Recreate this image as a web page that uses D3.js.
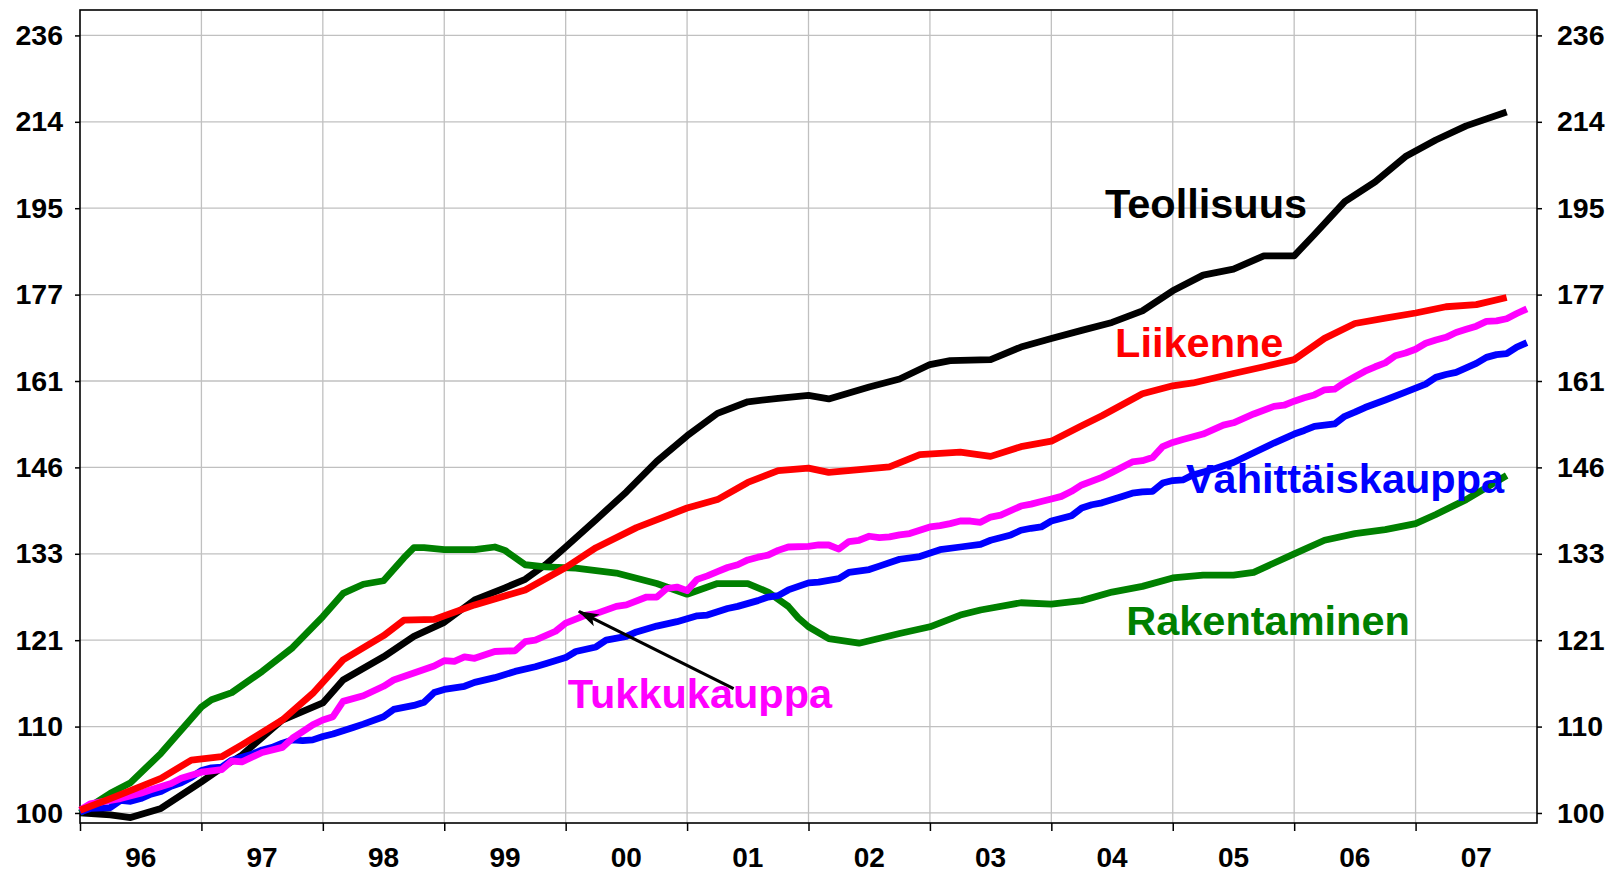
<!DOCTYPE html>
<html>
<head>
<meta charset="utf-8">
<script src="https://d3js.org/d3.v7.min.js"></script>
<style>
  html, body { margin: 0; padding: 0; background: #ffffff; }
  svg { display: block; font-family: "Liberation Sans", Arial, sans-serif; font-weight: bold; }
</style>
</head>
<body>
<div id="chart"></div>
<script>
// month index: 0 = Jan 1996, index 1996-01 = 100, log scale
const yearLabels = ["96", "97", "98", "99", "00", "01", "02", "03", "04", "05", "06", "07"];
const yTickLabels = [100, 110, 121, 133, 146, 161, 177, 195, 214, 236];

const teollisuus = [
  [0, 100.0], [3, 99.8], [5, 99.5], [8, 100.5], [12, 103.5], [14, 105.1], [16, 106.6], [20, 110.8],
  [24, 112.9], [26, 115.8], [30, 118.8], [33, 121.5], [36, 123.4], [39, 126.5], [42, 128.2], [44, 129.4],
  [46, 131.5], [48, 134.1], [51, 138.2], [54, 142.5], [57, 147.4], [60, 151.6], [63, 155.4], [66, 157.4],
  [69, 158.0], [72, 158.5], [74, 157.9], [78, 160.0], [81, 161.4], [84, 164.0], [86, 164.7], [90, 164.9],
  [93, 167.2], [96, 168.8], [99, 170.3], [102, 171.8], [105, 174.0], [108, 177.9], [111, 181.0], [114, 182.2],
  [117, 184.9], [120, 184.9], [122, 189.3], [125, 196.3], [128, 200.6], [131, 206.3], [134, 210.1], [137, 213.4],
  [141, 216.7]
];

const liikenne = [
  [0, 100.3], [3, 101.6], [8, 103.9], [11, 106.0], [14, 106.4], [16, 107.8], [20, 110.8], [23, 114.1],
  [26, 118.4], [30, 121.6], [32, 123.7], [35, 123.8], [39, 125.8], [44, 127.9], [48, 131.1], [51, 134.0],
  [55, 137.0], [60, 140.0], [63, 141.3], [66, 144.0], [69, 145.9], [72, 146.3], [74, 145.6], [80, 146.5],
  [83, 148.5], [87, 148.9], [90, 148.2], [93, 149.8], [96, 150.7], [99, 153.3], [101, 155.0], [105, 158.8],
  [108, 160.2], [110, 160.7], [114, 162.4], [117, 163.6], [120, 164.9], [123, 168.8], [126, 171.6], [129, 172.6],
  [132, 173.6], [135, 174.8], [138, 175.2], [141, 176.6]
];

const rakentaminen = [
  [0, 100.0], [3, 102.2], [5, 103.4], [8, 106.8], [12, 112.4], [13, 113.3], [15, 114.2], [18, 116.9],
  [21, 120.0], [24, 124.2], [26, 127.4], [28, 128.7], [30, 129.2], [32, 132.5], [33, 134.0], [34, 134.0],
  [36, 133.7], [39, 133.7], [41, 134.1], [42, 133.6], [44, 131.5], [46, 131.2], [49, 131.0], [53, 130.3],
  [57, 128.8], [60, 127.3], [63, 128.8], [66, 128.8], [68, 127.6], [69, 126.6], [70, 125.6], [71, 124.0],
  [72, 122.8], [74, 121.2], [77, 120.6], [81, 121.9], [84, 122.8], [87, 124.4], [89, 125.1], [93, 126.1],
  [96, 125.9], [99, 126.4], [102, 127.6], [105, 128.4], [108, 129.6], [111, 130.0], [114, 130.0], [116, 130.4],
  [120, 133.1], [123, 135.1], [126, 136.1], [129, 136.7], [132, 137.6], [134, 139.0], [137, 141.3], [141, 145.1]
];

const tukkukauppa = [
  [0, 100.3], [1, 101.0], [4, 101.6], [6, 102.2], [7, 102.6], [9, 103.3], [10, 103.9], [12, 104.6],
  [14, 104.9], [15, 105.9], [16, 105.8], [18, 106.9], [20, 107.5], [21, 108.6], [22, 109.4], [23, 110.2],
  [24, 110.8], [25, 111.2], [26, 113.1], [28, 113.8], [30, 115.0], [31, 115.8], [33, 116.7], [35, 117.6],
  [36, 118.3], [37, 118.2], [38, 118.8], [39, 118.6], [41, 119.5], [43, 119.6], [44, 120.8], [45, 121.0],
  [47, 122.2], [48, 123.3], [50, 124.4], [51, 124.6], [53, 125.6], [54, 125.8], [56, 126.9], [57, 126.9],
  [58, 128.1], [59, 128.3], [60, 127.8], [61, 129.4], [62, 129.9], [63, 130.5], [64, 131.1], [65, 131.5],
  [66, 132.2], [67, 132.6], [68, 132.9], [69, 133.6], [70, 134.1], [72, 134.2], [73, 134.4], [74, 134.4],
  [75, 133.8], [76, 134.9], [77, 135.1], [78, 135.7], [79, 135.5], [80, 135.6], [81, 135.9], [82, 136.1],
  [84, 137.1], [85, 137.3], [86, 137.6], [87, 138.0], [88, 138.0], [89, 137.8], [90, 138.6], [91, 138.9],
  [93, 140.3], [94, 140.6], [95, 141.0], [96, 141.4], [97, 141.8], [98, 142.6], [99, 143.6], [101, 144.8],
  [102, 145.6], [104, 147.3], [105, 147.5], [106, 148.0], [107, 149.8], [108, 150.5], [109, 151.0], [111, 151.9],
  [113, 153.4], [114, 153.8], [116, 155.3], [118, 156.6], [119, 156.8], [120, 157.5], [121, 158.1], [122, 158.6],
  [123, 159.5], [124, 159.6], [125, 160.8], [126, 161.8], [127, 162.8], [128, 163.6], [129, 164.3], [130, 165.6],
  [131, 166.1], [132, 166.8], [133, 167.9], [134, 168.5], [135, 169.0], [136, 169.9], [137, 170.5], [138, 171.1],
  [139, 172.0], [140, 172.1], [141, 172.5], [142, 173.5], [143, 174.4]
];

const vahittaiskauppa = [
  [0, 100.1], [1, 100.5], [3, 100.6], [4, 101.4], [5, 101.3], [6, 101.6], [7, 102.1], [8, 102.4],
  [9, 103.0], [10, 103.4], [11, 104.0], [12, 104.8], [13, 105.1], [14, 105.2], [15, 106.0], [17, 106.7],
  [18, 107.2], [19, 107.5], [20, 108.0], [21, 108.4], [22, 108.3], [23, 108.4], [24, 108.8], [25, 109.1],
  [27, 109.9], [28, 110.3], [30, 111.2], [31, 112.1], [33, 112.6], [34, 113.0], [35, 114.2], [36, 114.6],
  [38, 115.0], [39, 115.5], [41, 116.1], [43, 116.9], [45, 117.5], [46, 117.9], [48, 118.7], [49, 119.5],
  [51, 120.1], [52, 121.0], [54, 121.5], [55, 122.1], [57, 122.9], [58, 123.2], [59, 123.5], [61, 124.3],
  [62, 124.4], [64, 125.3], [65, 125.6], [67, 126.4], [68, 126.9], [69, 127.1], [70, 127.9], [72, 128.9],
  [73, 129.0], [75, 129.5], [76, 130.4], [78, 130.8], [79, 131.3], [81, 132.3], [83, 132.7], [85, 133.7],
  [87, 134.1], [89, 134.5], [90, 135.1], [92, 135.9], [93, 136.6], [94, 136.9], [95, 137.1], [96, 138.0],
  [98, 138.8], [99, 140.0], [100, 140.5], [101, 140.8], [103, 141.8], [104, 142.3], [105, 142.5], [106, 142.6],
  [107, 143.9], [108, 144.3], [109, 144.4], [110, 145.2], [112, 146.1], [114, 147.2], [116, 148.8], [118, 150.4],
  [120, 151.9], [121, 152.5], [122, 153.2], [123, 153.4], [124, 153.6], [125, 154.9], [126, 155.6], [127, 156.4],
  [129, 157.7], [131, 159.1], [133, 160.5], [134, 161.7], [135, 162.2], [136, 162.6], [137, 163.4], [138, 164.2],
  [139, 165.3], [140, 165.8], [141, 166.0], [142, 167.2], [143, 168.0]
];

// drawing order: first is bottom
const series = [
  {name: "Teollisuus", color: "#000000", data: teollisuus, label: [101.3, 192.8]},
  {name: "Rakentaminen", color: "#008000", data: rakentaminen, label: [103.4, 121.7]},
  {name: "Vähittäiskauppa", color: "#0000ff", data: vahittaiskauppa, label: [109.3, 142.4]},
  {name: "Tukkukauppa", color: "#ff00ff", data: tukkukauppa, label: [48.2, 112.3]},
  {name: "Liikenne", color: "#ff0000", data: liikenne, label: [102.3, 165.4]}
];

// arrow from Tukkukauppa label to its line: [month, value]
const arrowFrom = [64.6, 114.7];
const arrowTo = [49.3, 124.9];

const width = 1619;
const height = 875;
const margin = {top: 10, right: 82, bottom: 52, left: 80};

const svg = d3.select("#chart")
    .append("svg")
    .attr("width", width)
    .attr("height", height);

const x = d3.scaleLinear()
    .domain([0, 144])
    .range([margin.left, width - margin.right]);

const y = d3.scaleLog()
    .domain([98.9, 242.5])
    .range([height - margin.bottom, margin.top]);

// gridline positions: each step is +10 %
const yTicks = yTickLabels.map((d, i) => 100 * Math.pow(1.1, i));
const yearStarts = yearLabels.map((d, i) => i * 12);

const grid = svg.append("g").attr("class", "grid");

grid.selectAll(".hgrid")
    .data(yTicks)
    .join("line")
    .attr("x1", x(0))
    .attr("x2", x(144))
    .attr("y1", d => y(d))
    .attr("y2", d => y(d))
    .attr("stroke", "#c0c0c0")
    .attr("stroke-width", 1.3);

grid.selectAll(".vgrid")
    .data(yearStarts.slice(1))
    .join("line")
    .attr("x1", d => x(d))
    .attr("x2", d => x(d))
    .attr("y1", y.range()[0])
    .attr("y2", y.range()[1])
    .attr("stroke", "#c0c0c0")
    .attr("stroke-width", 1.3);

// axes
const yLeft = svg.append("g")
    .attr("transform", `translate(${x(0)},0)`)
    .call(d3.axisLeft(y)
        .tickValues(yTicks)
        .tickFormat((d, i) => yTickLabels[i])
        .tickSize(5)
        .tickPadding(12));

const yRight = svg.append("g")
    .attr("transform", `translate(${x(144)},0)`)
    .call(d3.axisRight(y)
        .tickValues(yTicks)
        .tickFormat((d, i) => yTickLabels[i])
        .tickSize(5)
        .tickPadding(15));

const xAxis = svg.append("g")
    .attr("transform", `translate(0,${y.range()[0]})`)
    .call(d3.axisBottom(x)
        .tickValues(yearStarts)
        .tickFormat("")
        .tickSize(8));

[yLeft, yRight, xAxis].forEach(a => {
    a.select(".domain").remove();
    a.selectAll(".tick line").attr("stroke", "#000").attr("stroke-width", 1.5);
    a.selectAll("text")
        .attr("fill", "#000")
        .style("font-size", "28.5px")
        .style("font-family", "'Liberation Sans', Arial, sans-serif")
        .style("font-weight", "bold");
});

svg.append("g")
    .selectAll("text")
    .data(yearLabels)
    .join("text")
    .attr("x", (d, i) => x(i * 12 + 6))
    .attr("y", 867)
    .attr("text-anchor", "middle")
    .style("font-size", "28px")
    .text(d => d);

// frame
svg.append("rect")
    .attr("x", x(0))
    .attr("y", y.range()[1])
    .attr("width", x(144) - x(0))
    .attr("height", y.range()[0] - y.range()[1])
    .attr("fill", "none")
    .attr("stroke", "#000")
    .attr("stroke-width", 1.6);

// lines
const line = d3.line()
    .x(d => x(d[0]))
    .y(d => y(d[1]));

svg.append("g")
    .selectAll("path")
    .data(series)
    .join("path")
    .attr("d", d => line(d.data))
    .attr("fill", "none")
    .attr("stroke", d => d.color)
    .attr("stroke-width", 6.8)
    .attr("stroke-linejoin", "round")
    .attr("stroke-linecap", "butt");

// arrow
svg.append("defs")
    .append("marker")
    .attr("id", "arrowhead")
    .attr("viewBox", "0 -7 22 14")
    .attr("refX", 20)
    .attr("refY", 0)
    .attr("markerUnits", "userSpaceOnUse")
    .attr("markerWidth", 22)
    .attr("markerHeight", 14)
    .attr("orient", "auto")
    .append("path")
    .attr("d", "M0,-6.5L21,0L0,6.5L5,0Z")
    .attr("fill", "#000");

svg.append("line")
    .attr("x1", x(arrowFrom[0]))
    .attr("y1", y(arrowFrom[1]))
    .attr("x2", x(arrowTo[0]))
    .attr("y2", y(arrowTo[1]))
    .attr("stroke", "#000")
    .attr("stroke-width", 3.2)
    .attr("marker-end", "url(#arrowhead)");

// series labels
svg.append("g")
    .selectAll("text")
    .data(series)
    .join("text")
    .attr("x", d => x(d.label[0]))
    .attr("y", d => y(d.label[1]))
    .attr("fill", d => d.color)
    .style("font-size", "41.5px")
    .text(d => d.name);
</script>
</body>
</html>
